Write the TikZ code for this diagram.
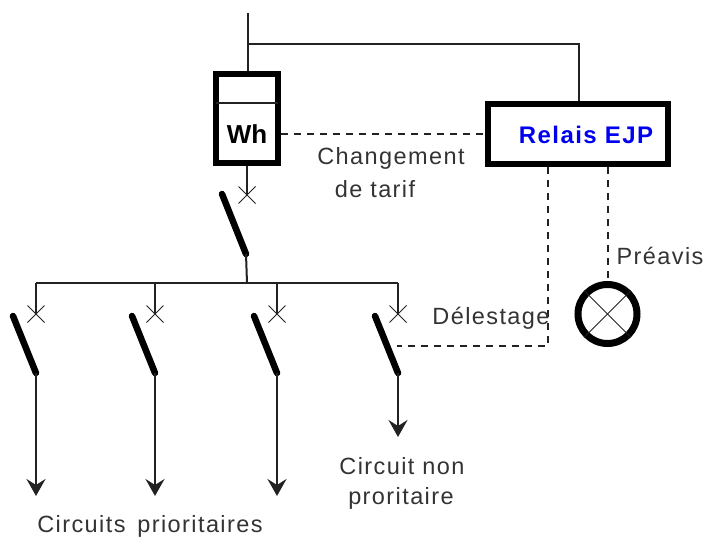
\documentclass[tikz,border=0pt]{standalone}
\usepackage{fontspec}
\setmainfont{Liberation Sans}
\newfontfamily\spaced[LetterSpace=6]{Liberation Sans}
\usetikzlibrary{arrows.meta,shapes.misc}
\definecolor{trait}{HTML}{222222}
\definecolor{texte}{HTML}{333333}
\definecolor{relais}{HTML}{0000F0}
\begin{document}
\begin{tikzpicture}[x=1pt, y=-1pt]
	\tikzstyle{fil} = [line width=2pt, color=trait]
	\tikzstyle{pointille} = [line width=2pt, color=trait, dash pattern=on 7pt off 6pt]
	\tikzstyle{boite} = [draw=black, line width=6pt, rectangle, inner sep=0pt, fill=white]
	\tikzstyle{lame} = [line width=6.5pt, color=black, line cap=round]
	\tikzstyle{croix} = [draw=trait, line width=1pt, cross out, minimum size=16pt, inner sep=0pt]
	\tikzstyle{etiquette} = [inner sep=0pt, color=texte, font=\fontsize{23.5}{28}\selectfont\spaced]
	\tikzstyle{fleche} = [fil, -{Stealth[length=17pt, width=19pt, inset=6pt]}]
	\useasboundingbox (0,0) rectangle (705,538);
	% compteur et relais
	\coordinate (arrivee) at (247.5,13);
	\coordinate (derivation) at (247.5,44);
	\coordinate (coude) at (579,44);
	\node[boite, minimum width=62pt, minimum height=89pt] (compteur) at (247,118.5) {};
	\node[boite, minimum width=180pt, minimum height=60pt] (relais) at (578,134) {};
	\node[inner sep=0pt, font=\fontsize{26}{30}\selectfont\bfseries] (Wh) at (247,134) {Wh};
	\node[inner sep=0pt, color=relais, font=\fontsize{24}{28}\selectfont\bfseries\spaced] (EJP) at (586,135) {Relais EJP};
	\coordinate (diviseurG) at (216,103);
	\coordinate (diviseurD) at (278,103);
	\draw [fil] (diviseurG)--(diviseurD);
	\draw [fil] (arrivee)--(compteur.north -| arrivee);
	\draw [fil] (derivation)--(coude)--(coude |- relais.north);
	\draw [pointille] (compteur.east |- Wh)--(relais.west |- Wh);
	% disjoncteur general
	\node[croix] (Xg) at (247,195) {};
	\coordinate (hautG) at (222,194);
	\coordinate (basG) at (246,254);
	\coordinate (busG) at (247,283);
	\draw [fil] (compteur.south -| Xg)--(Xg.center);
	\draw [lame] (hautG)--(basG);
	\draw [fil] (basG)--(busG);
	% departs
	\coordinate (bus1) at (36,283);
	\coordinate (bus4) at (398,283);
	\draw [fil] (bus1)--(bus4);
	\foreach \n/\x/\fin in {1/36/496, 2/155/496, 3/277/496, 4/398/437} {
		\node[croix] (X\n) at (\x,314) {};
		\coordinate (haut\n) at (\x-23,316);
		\coordinate (bas\n) at (\x,373);
		\coordinate (fin\n) at (\x,\fin);
		\draw [fil] (\x,283)--(X\n.center);
		\draw [lame] (haut\n)--(bas\n);
		\draw [fleche] (bas\n)--(fin\n);
	}
	% pointilles du relais et voyant
	\node[draw=black, line width=7pt, circle, inner sep=0pt, minimum size=59pt] (voyant) at (607.5,314) {};
	\draw [line width=1pt, color=trait] (voyant.45)--(voyant.225);
	\draw [line width=1pt, color=trait] (voyant.135)--(voyant.315);
	\coordinate (coin) at (548,346);
	\coordinate (lame4) at (397,346);
	\draw [pointille] (coin |- relais.south)--(coin)--(lame4);
	\draw [pointille] (voyant |- relais.south)--(voyant.north);
	% textes
	\node[etiquette] (Changement) at (391,158) {Changement};
	\node[etiquette] (tarif) at (375,189) {de tarif};
	\node[etiquette] (Preavis) at (660,256) {Préavis};
	\node[etiquette] (Delestage) at (491,318) {Délestage};
	\node[etiquette] (nonprio) at (402,466) {Circuit non};
	\node[etiquette] (proritaire) at (401,498) {proritaire};
	\node[etiquette] (prioritaires) at (150,526) {Circuits\, prioritaires};
\end{tikzpicture}
\end{document}
